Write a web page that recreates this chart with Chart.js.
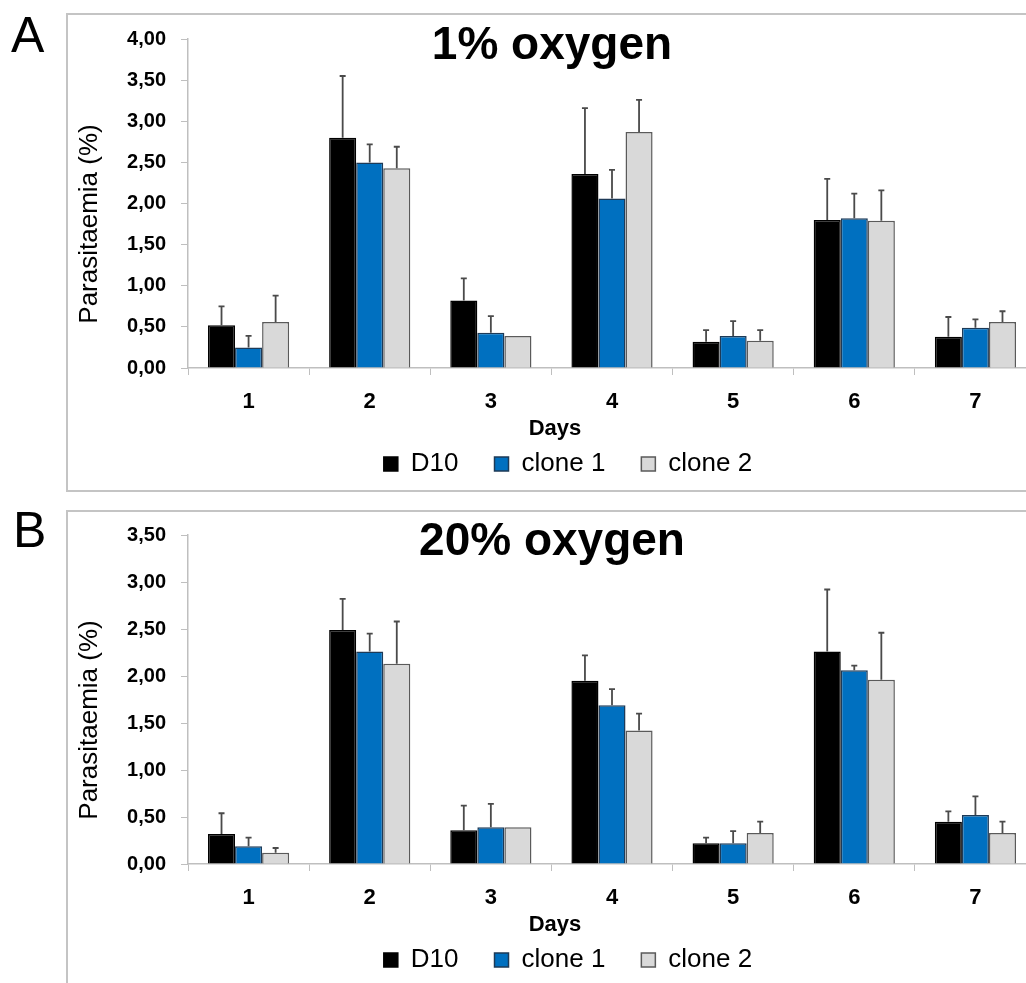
<!DOCTYPE html>
<html>
<head>
<meta charset="utf-8">
<script src="https://cdn.jsdelivr.net/npm/chart.js@4.4.0/dist/chart.umd.min.js"></script>
<style>
  html, body { margin: 0; padding: 0; background: #fff; }
  body { width: 1026px; height: 983px; position: relative; overflow: hidden; font-family: "Liberation Sans", Arial, sans-serif; }
  .box { position: absolute; left: 66px; width: 1000px; border: 2px solid #c4c4c4; border-right: none; }
  #boxA { top: 13px; height: 475px; }
  #boxB { top: 510px; height: 520px; }
  .letter { position: absolute; font-size: 50px; color: #000; line-height: 1; }
  #letterA { left: 11px; top: 10px; }
  #letterB { left: 13px; top: 505px; }
  canvas { position: absolute; left: 67px; }
  #chartA { top: 12px; }
  #chartB { top: 508px; }
</style>
</head>
<body>
<div class="box" id="boxA"></div>
<div class="box" id="boxB"></div>
<div class="letter" id="letterA">A</div>
<div class="letter" id="letterB">B</div>
<canvas id="chartA" width="1002" height="496"></canvas>
<canvas id="chartB" width="1002" height="496"></canvas>

<script>
"use strict";

// Data
const days = ["1", "2", "3", "4", "5", "6", "7"];
const seriesNames = ["D10", "clone 1", "clone 2"];

// A: 1% oxygen (mean and upper error)
const lowD10 = [0.52, 2.8, 0.82, 2.36, 0.32, 1.8, 0.38];
const lowD10Err = [0.23, 0.75, 0.27, 0.8, 0.14, 0.5, 0.24];
const lowClone1 = [0.25, 2.5, 0.43, 2.06, 0.39, 1.82, 0.49];
const lowClone1Err = [0.14, 0.22, 0.2, 0.35, 0.18, 0.3, 0.1];
const lowClone2 = [0.56, 2.43, 0.39, 2.87, 0.33, 1.79, 0.56];
const lowClone2Err = [0.32, 0.26, 0, 0.39, 0.13, 0.37, 0.13];

// B: 20% oxygen
const highD10 = [0.32, 2.49, 0.36, 1.95, 0.22, 2.26, 0.45];
const highD10Err = [0.22, 0.33, 0.26, 0.27, 0.06, 0.66, 0.11];
const highClone1 = [0.19, 2.26, 0.39, 1.69, 0.22, 2.06, 0.52];
const highClone1Err = [0.09, 0.19, 0.25, 0.17, 0.13, 0.05, 0.2];
const highClone2 = [0.12, 2.13, 0.39, 1.42, 0.33, 1.96, 0.33];
const highClone2Err = [0.05, 0.45, 0, 0.18, 0.12, 0.5, 0.12];

const FONT = "'Liberation Sans', Arial, sans-serif";
const AXIS_GREY = "#bfbfbf";

const barColors = ["#000000", "#0070c0", "#d9d9d9"];
const barBorders = ["#000000", "#1d3a57", "#5a5a5a"];

// Error bars (upper only), drawn from the bar scales
const errorBars = {
  id: "errorBars",
  afterDatasetsDraw(chart) {
    const ctx = chart.ctx;
    const yScale = chart.scales.y;
    chart.data.datasets.forEach((ds, i) => {
      const meta = chart.getDatasetMeta(i);
      meta.data.forEach((bar, j) => {
        const err = ds.errors[j];
        if (!err) return;
        const yTop = yScale.getPixelForValue(ds.data[j] + err);
        ctx.save();
        ctx.strokeStyle = "#4a4a4a";
        ctx.lineWidth = 1.8;
        ctx.beginPath();
        ctx.moveTo(bar.x, bar.y);
        ctx.lineTo(bar.x, yTop);
        ctx.moveTo(bar.x - 3, yTop);
        ctx.lineTo(bar.x + 3, yTop);
        ctx.stroke();
        ctx.restore();
      });
    });
  },
};

// Free-placed texts (title, axis titles)
const panelText = {
  id: "panelText",
  afterDraw(chart, args, opts) {
    const ctx = chart.ctx;
    (opts.items || []).forEach((t) => {
      ctx.save();
      ctx.font = t.font;
      ctx.fillStyle = "#000";
      ctx.textAlign = "center";
      ctx.textBaseline = t.baseline || "alphabetic";
      ctx.translate(t.x, t.y);
      if (t.rotate) ctx.rotate(t.rotate);
      ctx.fillText(t.text, 0, 0);
      ctx.restore();
    });
  },
};

function makeDatasets(values, errors) {
  return seriesNames.map((name, i) => ({
    label: name,
    data: values[i],
    errors: errors[i],
    backgroundColor: barColors[i],
    borderColor: barBorders[i],
    borderWidth: 1.5,
    borderSkipped: "bottom",
    barPercentage: 1,
    categoryPercentage: 0.67,
  }));
}

function makeChart(id, title, yMax, values, errors) {
  const ctx = document.getElementById(id).getContext("2d");
  return new Chart(ctx, {
    type: "bar",
    data: { labels: days, datasets: makeDatasets(values, errors) },
    options: {
      responsive: false,
      animation: false,
      devicePixelRatio: 1,
      layout: { padding: { top: 16, right: 33, left: 33, bottom: 21 } },
      plugins: {
        tooltip: { enabled: false },
        legend: {
          position: "bottom",
          labels: {
            boxWidth: 14,
            boxHeight: 14,
            padding: 36,
            color: "#000",
            font: { family: FONT, size: 26 },
          },
        },
        panelText: {
          items: [
            { text: title, x: 485, y: 47, font: "bold 46px " + FONT },
            { text: "Days", x: 488, y: 423, font: "bold 22px " + FONT },
            { text: "Parasitaemia (%)", x: 23, y: 212, font: "26px " + FONT, baseline: "middle", rotate: -Math.PI / 2 },
          ],
        },
      },
      scales: {
        x: {
          afterFit: (scale) => { scale.height = 47; },
          grid: { display: true, drawOnChartArea: false, tickLength: 7, color: AXIS_GREY },
          border: { color: AXIS_GREY, width: 1.5 },
          ticks: { color: "#000", padding: 14, font: { family: FONT, size: 22, weight: "bold" } },
        },
        y: {
          min: 0,
          max: yMax,
          afterFit: (scale) => { scale.width = 88; },
          grid: { display: true, drawOnChartArea: false, tickLength: 7, color: AXIS_GREY },
          border: { color: AXIS_GREY, width: 1.5 },
          ticks: {
            stepSize: 0.5,
            padding: 15,
            color: "#000",
            font: { family: FONT, size: 20, weight: "bold" },
            callback: (v) => v.toFixed(2).replace(".", ","),
          },
        },
      },
    },
    plugins: [errorBars, panelText],
  });
}

makeChart("chartA", "1% oxygen", 4,
  [lowD10, lowClone1, lowClone2],
  [lowD10Err, lowClone1Err, lowClone2Err]);

makeChart("chartB", "20% oxygen", 3.5,
  [highD10, highClone1, highClone2],
  [highD10Err, highClone1Err, highClone2Err]);
</script>
</body>
</html>
